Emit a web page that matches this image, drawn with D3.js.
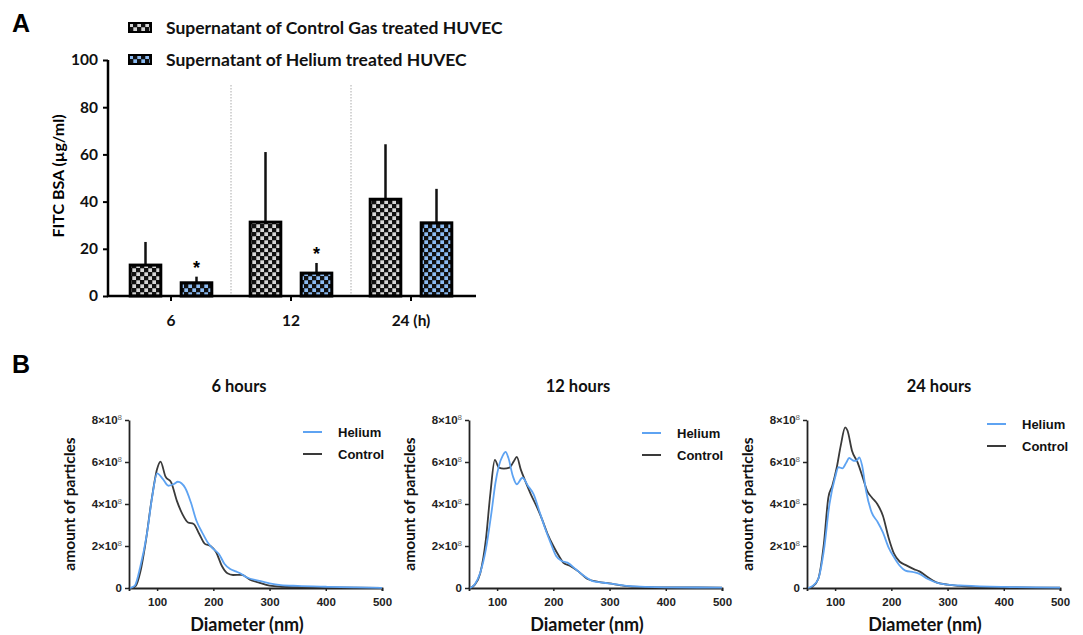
<!DOCTYPE html>
<html>
<head>
<meta charset="utf-8">
<script src="https://cdn.jsdelivr.net/npm/d3@7"></script>
<style>
  body { margin: 0; background: #fff; }
  svg { display: block; }
  .calib { font-family: Lato, "Open Sans", sans-serif; font-weight: bold; }
  .prism { font-family: "Liberation Sans", Arial, sans-serif; font-weight: bold; }
</style>
</head>
<body>
<div id="chart"></div>
<script>
// ---- panel A data (FITC BSA, µg/ml) ----
const timepoints = ["6", "12", "24 (h)"];
const controlMean = [13.1, 31.3, 41.0];
const controlSD = [9.8, 29.7, 23.3];
const heliumMean = [5.6, 9.7, 31.0];
const heliumSD = [2.6, 4.3, 14.4];
const heliumSignificant = [true, true, false];
const yTicksA = [0, 20, 40, 60, 80, 100];

// ---- panel B data: [diameter nm, particles x10^8] ----
const helium6h = [[52,0],[60,0.1],[70,1.0],[82,2.6],[91,4.3],[100,5.46],[110,5.2],[120,4.87],[130,4.95],[137,5.06],[150,4.76],[160,4.08],[170,3.2],[180,2.65],[190,2.17],[200,1.86],[210,1.62],[220,1.14],[230,0.9],[240,0.79],[250,0.67],[260,0.5],[280,0.35],[300,0.22],[320,0.14],[350,0.1],[400,0.06],[450,0.03],[500,0.01]];
const control6h = [[55,0],[62,0.1],[70,0.75],[80,2.25],[90,4.16],[100,5.67],[106,6.02],[115,5.3],[125,5.03],[135,4.16],[145,3.52],[155,3.12],[165,3.05],[175,2.57],[185,2.1],[195,2.0],[205,1.7],[215,1.06],[225,0.7],[235,0.62],[250,0.63],[265,0.4],[280,0.27],[300,0.11],[320,0.06],[350,0.04],[400,0.03],[500,0.01]];
const helium12h = [[52,0],[60,0.17],[70,0.73],[80,1.84],[90,3.6],[97,5.0],[103,5.8],[110,6.3],[115,6.48],[120,6.2],[128,5.33],[135,4.94],[145,5.25],[155,4.86],[165,4.46],[175,3.67],[185,2.87],[195,2.16],[205,1.52],[215,1.29],[225,1.21],[240,0.89],[255,0.57],[270,0.33],[290,0.25],[305,0.2],[330,0.1],[400,0.03],[500,0.02]];
const control12h = [[52,0],[60,0.15],[70,0.7],[80,2.3],[88,4.5],[96,6.1],[103,5.73],[112,5.68],[122,5.73],[130,6.05],[135,6.24],[142,5.65],[150,5.1],[160,4.46],[170,3.9],[180,3.27],[190,2.56],[200,2.0],[210,1.52],[218,1.2],[230,1.05],[245,0.78],[260,0.44],[280,0.29],[300,0.22],[320,0.13],[340,0.07],[400,0.03],[500,0.02]];
const helium24h = [[52,0],[60,0.1],[70,0.43],[80,1.78],[90,4.0],[100,5.27],[106,5.75],[113,5.7],[120,5.98],[125,6.19],[133,6.06],[138,6.06],[143,6.22],[148,5.83],[155,4.63],[165,3.6],[175,3.17],[185,2.65],[195,1.94],[205,1.46],[215,1.06],[225,0.83],[240,0.75],[250,0.67],[265,0.43],[285,0.22],[300,0.16],[330,0.11],[400,0.05],[500,0.02]];
const control24h = [[55,0],[60,0.07],[70,0.43],[80,2.1],[88,4.32],[95,4.87],[103,5.75],[110,6.78],[118,7.65],[122,7.5],[130,6.54],[140,5.98],[150,5.19],[157,4.63],[165,4.32],[175,4.0],[185,3.44],[195,2.41],[205,1.62],[215,1.25],[225,1.1],[240,0.9],[250,0.79],[265,0.51],[280,0.27],[300,0.16],[320,0.1],[350,0.05],[400,0.03],[500,0.02]];
const panelTitles = ["6 hours", "12 hours", "24 hours"];
const xTicksB = [100, 200, 300, 400, 500];
const yTicksB = [0, 2, 4, 6, 8];

const heliumBlue = "#5ea3f2";
const controlGrey = "#3a3a3a";

const svg = d3.select("#chart").append("svg")
    .attr("width", 1083)
    .attr("height", 635);

// checker fills
const defs = svg.append("defs");
const checker = (id, light) => {
    const p = defs.append("pattern")
        .attr("id", id)
        .attr("patternUnits", "userSpaceOnUse")
        .attr("width", 8).attr("height", 8);
    p.append("rect").attr("width", 8).attr("height", 8).attr("fill", "#111");
    p.append("rect").attr("x", 0.3).attr("y", 0.3).attr("width", 3.7).attr("height", 3.7).attr("fill", light);
    p.append("rect").attr("x", 4.3).attr("y", 4.3).attr("width", 3.7).attr("height", 3.7).attr("fill", light);
}
checker("chkControl", "#d6d6d6");
checker("chkHelium", "#8cbcf4");

// ================= Panel A =================
const gA = svg.append("g");

gA.append("text").attr("class", "prism")
    .attr("x", 12).attr("y", 32)
    .attr("font-size", 25)
    .text("A");

const x = d3.scaleBand()
    .domain(timepoints)
    .range([111, 471]);

const sub = d3.scaleBand()
    .domain(["control", "helium"])
    .range([18, 102])
    .paddingInner(0.353);

const y = d3.scaleLinear()
    .domain([0, 100])
    .range([296, 60]);

// dotted separators between groups
gA.selectAll("line.sep")
    .data(timepoints.slice(1))
    .enter().append("line")
        .attr("x1", d => x(d)).attr("x2", d => x(d))
        .attr("y1", 85).attr("y2", 296)
        .attr("stroke", "#aaa")
        .attr("stroke-width", 1)
        .attr("stroke-dasharray", "1.5,1.5");

const barRows = timepoints.map((t, i) => [
    {t, key: "control", mean: controlMean[i], sd: controlSD[i], star: false},
    {t, key: "helium", mean: heliumMean[i], sd: heliumSD[i], star: heliumSignificant[i]}
]).flat();

// error bars (upper only)
gA.selectAll("line.err")
    .data(barRows)
    .enter().append("line")
        .attr("x1", d => x(d.t) + sub(d.key) + sub.bandwidth() / 2)
        .attr("x2", d => x(d.t) + sub(d.key) + sub.bandwidth() / 2)
        .attr("y1", d => y(d.mean))
        .attr("y2", d => y(d.mean + d.sd))
        .attr("stroke", "#111")
        .attr("stroke-width", 2.5);

gA.selectAll("rect.bar")
    .data(barRows)
    .enter().append("rect")
        .attr("x", d => x(d.t) + sub(d.key) + 1.2)
        .attr("y", d => y(d.mean))
        .attr("width", sub.bandwidth() - 2.4)
        .attr("height", d => y(0) - y(d.mean))
        .attr("fill", d => d.key == "control" ? "url(#chkControl)" : "url(#chkHelium)")
        .attr("stroke", "#000")
        .attr("stroke-width", 3);

gA.selectAll("text.star")
    .data(barRows.filter(d => d.star))
    .enter().append("text")
        .attr("class", "prism")
        .attr("x", d => x(d.t) + sub(d.key) + sub.bandwidth() / 2)
        .attr("y", d => y(d.mean + d.sd) - 3)
        .attr("text-anchor", "middle")
        .attr("font-size", 18)
        .text("*");

// axes
const yAxisA = gA.append("g")
    .attr("transform", "translate(108,0)")
    .call(d3.axisLeft(y).tickValues(yTicksA).tickSize(5).tickPadding(5));
yAxisA.select(".domain").attr("d", "M0,60V296.5").attr("stroke-width", 2.5);
yAxisA.selectAll(".tick line").attr("stroke-width", 2);
yAxisA.selectAll("text").attr("class", "calib").attr("font-size", 15.5).attr("fill", "#111");

const xAxisA = gA.append("g")
    .attr("transform", "translate(0,296)")
    .call(d3.axisBottom(x).tickSize(5).tickPadding(14));
xAxisA.select(".domain").attr("d", "M107,0H476").attr("stroke-width", 2.5);
xAxisA.selectAll(".tick line").attr("stroke-width", 2);
xAxisA.selectAll("text").attr("class", "calib").attr("font-size", 15.5).attr("fill", "#111");

gA.append("text").attr("class", "calib")
    .attr("transform", "translate(64,176) rotate(-90)")
    .attr("text-anchor", "middle")
    .attr("font-size", 16)
    .text("FITC BSA (µg/ml)");

// legend
const legendA = [
    {label: "Supernatant of Control Gas treated HUVEC", fill: "url(#chkControl)"},
    {label: "Supernatant of Helium treated HUVEC", fill: "url(#chkHelium)"}
];
const lg = gA.selectAll("g.leg")
    .data(legendA)
    .enter().append("g")
        .attr("transform", (d, i) => `translate(129,${23 + i * 32})`);
lg.append("rect")
    .attr("width", 22).attr("height", 9)
    .attr("fill", d => d.fill)
    .attr("stroke", "#000").attr("stroke-width", 2);
lg.append("text").attr("class", "calib")
    .attr("x", 37).attr("y", 11)
    .attr("font-size", 17.5)
    .attr("fill", "#111")
    .text(d => d.label);

// ================= Panel B =================
svg.append("text").attr("class", "prism")
    .attr("x", 12).attr("y", 373)
    .attr("font-size", 25)
    .text("B");

const panels = [
    {left: 129, helium: helium6h, control: control6h, titleDx: 110, legY: 432, legDx: 174},
    {left: 469, helium: helium12h, control: control12h, titleDx: 109, legY: 433, legDx: 173},
    {left: 807, helium: helium24h, control: control24h, titleDx: 132, legY: 424, legDx: 180}
];

panels.forEach((p, i) => {
    const g = svg.append("g");
    const xs = d3.scaleLinear().domain([50, 500]).range([p.left, p.left + 253]);
    const ys = d3.scaleLinear().domain([0, 8]).range([588, 420]);

    g.append("text").attr("class", "calib")
        .attr("x", p.left + p.titleDx).attr("y", 392)
        .attr("text-anchor", "middle")
        .attr("font-size", 16.5)
        .attr("fill", "#111")
        .text(panelTitles[i]);

    const xa = g.append("g")
        .attr("transform", "translate(0,588)")
        .call(d3.axisBottom(xs).tickValues(xTicksB).tickSize(3).tickPadding(7));
    xa.select(".domain").attr("stroke", "#222").attr("stroke-width", 1.8);
    xa.selectAll(".tick line").attr("stroke", "#222").attr("stroke-width", 1.5);
    xa.selectAll("text").attr("class", "prism").attr("font-size", 11.5).attr("fill", "#222");

    const ya = g.append("g")
        .attr("transform", `translate(${p.left},0)`)
        .call(d3.axisLeft(ys).tickValues(yTicksB).tickSize(4).tickPadding(3).tickSizeOuter(0));
    ya.select(".domain").attr("stroke", "#222").attr("stroke-width", 1.8);
    ya.selectAll(".tick line").attr("stroke", "#222").attr("stroke-width", 1.5);
    ya.selectAll("text")
        .attr("class", "prism").attr("font-size", 11.5).attr("fill", "#222")
        .each(function(d) {
            const t = d3.select(this).text("");
            if (d === 0) { t.text("0"); return; }
            t.append("tspan").text(`${d}×10`);
            t.append("tspan").attr("dy", -4).attr("font-size", 8).attr("font-weight", "normal").attr("fill", "#666").text("8");
        });

    g.append("text").attr("class", "calib")
        .attr("transform", `translate(${p.left - 54},504) rotate(-90)`)
        .attr("text-anchor", "middle")
        .attr("font-size", 15.5)
        .attr("fill", "#111")
        .text("amount of particles");

    g.append("text").attr("class", "calib")
        .attr("x", p.left + 118).attr("y", 631)
        .attr("text-anchor", "middle")
        .attr("font-size", 18)
        .attr("fill", "#111")
        .text("Diameter (nm)");

    const line = d3.line()
        .x(d => xs(d[0]))
        .y(d => ys(d[1]))
        .curve(d3.curveMonotoneX);

    [{data: p.control, color: controlGrey}, {data: p.helium, color: heliumBlue}].forEach(s => {
        g.append("path")
            .datum(s.data)
            .attr("d", line)
            .attr("fill", "none")
            .attr("stroke", s.color)
            .attr("stroke-width", 1.8);
    });

    const legB = [{label: "Helium", color: heliumBlue}, {label: "Control", color: controlGrey}];
    const lgb = g.selectAll("g.lb")
        .data(legB)
        .enter().append("g")
            .attr("transform", (d, k) => `translate(${p.left + p.legDx},${p.legY + k * 22})`);
    lgb.append("line")
        .attr("x1", 0).attr("x2", 19)
        .attr("stroke", d => d.color)
        .attr("stroke-width", 2);
    lgb.append("text").attr("class", "prism")
        .attr("x", 35).attr("y", 5)
        .attr("font-size", 13)
        .attr("fill", "#111")
        .text(d => d.label);
});
</script>
</body>
</html>
